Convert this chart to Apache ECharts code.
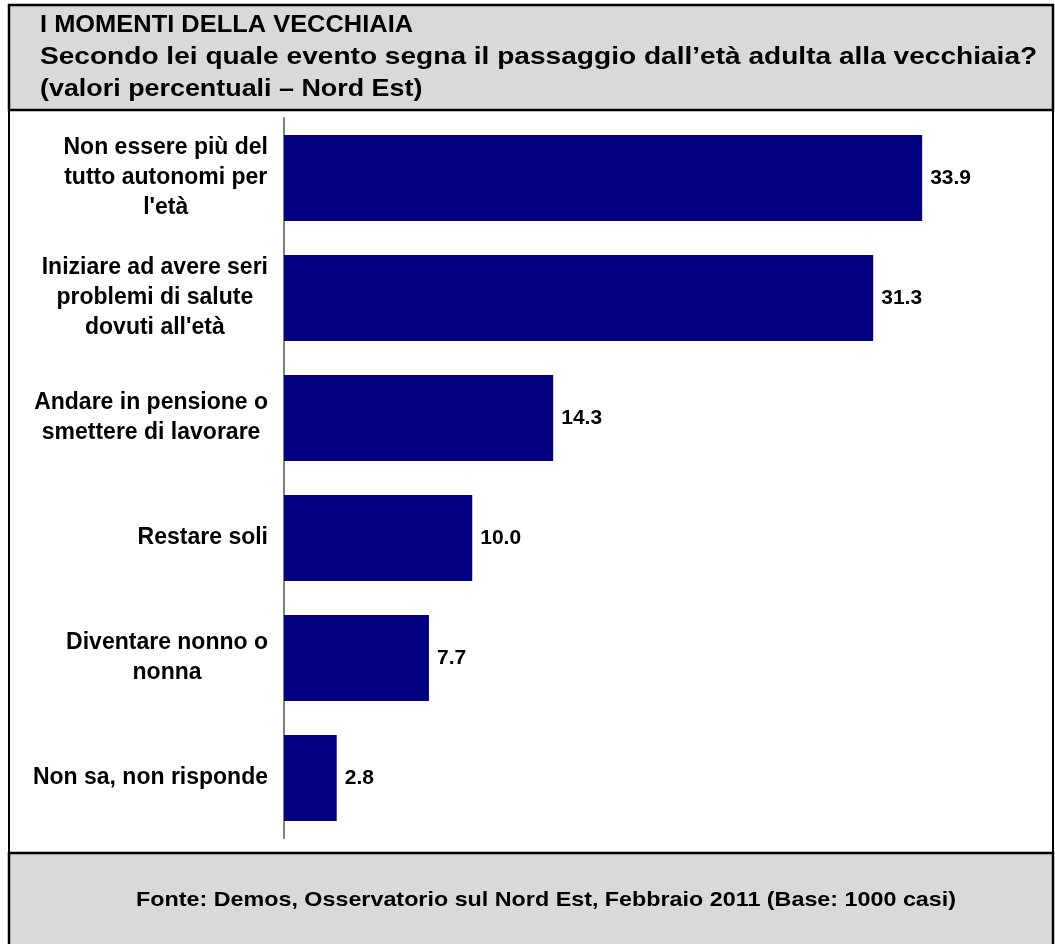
<!DOCTYPE html>
<html>
<head>
<meta charset="utf-8">
<script src="https://cdn.jsdelivr.net/npm/echarts@6/dist/echarts.min.js"></script>
<style>
  html, body { margin: 0; padding: 0; background: #fff; }
  #chart { width: 1055px; height: 944px; }
</style>
</head>
<body>
<div id="chart"></div>
<script>
// categories, top to bottom
const categories = [
  'Non essere più del\ntutto autonomi per\nl\'età',
  'Iniziare ad avere seri\nproblemi di salute\ndovuti all\'età',
  'Andare in pensione o\nsmettere di lavorare',
  'Restare soli',
  'Diventare nonno o\nnonna',
  'Non sa, non risponde'
];
const values = [33.9, 31.3, 14.3, 10.0, 7.7, 2.8];

const titleLines = [
  'I MOMENTI DELLA VECCHIAIA',
  'Secondo lei quale evento segna il passaggio dall\u2019età adulta alla vecchiaia?',
  '(valori percentuali \u2013 Nord Est)'
];
const source = 'Fonte: Demos, Osservatorio sul Nord Est, Febbraio 2011 (Base: 1000 casi)';

const FONT = '"Liberation Sans", Arial, sans-serif';
const GREY = '#d9d9d9';

let chart = echarts.init(document.getElementById('chart'));

let option = {
  backgroundColor: '#fff',
  animation: false,
  grid: { left: 284, top: 118, width: 753, height: 720 },
  xAxis: {
    type: 'value',
    min: 0,
    max: 40,
    show: false
  },
  yAxis: {
    type: 'category',
    data: categories,
    inverse: true,
    axisTick: { show: false },
    axisLine: { lineStyle: { color: '#808080', width: 2 } },
    axisLabel: {
      margin: 16,
      formatter: v => v.split('\n').map(l => '{c|' + l + '}').join('\n'),
      rich: {
        c: {
          align: 'center',
          fontFamily: FONT,
          fontWeight: 'bold',
          fontSize: 23,
          lineHeight: 30,
          color: '#000'
        }
      }
    }
  },
  series: [{
    type: 'bar',
    data: values,
    barWidth: 86,
    itemStyle: { color: '#000080' },
    label: {
      show: true,
      position: 'right',
      distance: 8,
      formatter: p => p.value.toFixed(1),
      fontFamily: FONT,
      fontWeight: 'bold',
      fontSize: 21,
      color: '#000'
    }
  }],
  graphic: [
    // header band
    { type: 'rect', z: -1, shape: { x: 9, y: 5, width: 1044, height: 105 },
      style: { fill: GREY, stroke: '#000', lineWidth: 2.5 } },
    // footer band
    { type: 'rect', z: -1, shape: { x: 9, y: 853, width: 1044, height: 95 },
      style: { fill: GREY, stroke: '#000', lineWidth: 2.5 } },
    // outer frame
    { type: 'rect', z: 10, shape: { x: 9, y: 5, width: 1044, height: 943 },
      style: { fill: null, stroke: '#000', lineWidth: 2 } },
    { type: 'text', x: 40, y: 25, scaleX: 1.06,
      style: { text: titleLines[0], font: 'bold 24px ' + FONT, fill: '#000', verticalAlign: 'middle' } },
    { type: 'text', x: 40, y: 57, scaleX: 1.17,
      style: { text: titleLines[1], font: 'bold 24px ' + FONT, fill: '#000', verticalAlign: 'middle' } },
    { type: 'text', x: 40, y: 89, scaleX: 1.12,
      style: { text: titleLines[2], font: 'bold 24px ' + FONT, fill: '#000', verticalAlign: 'middle' } },
    { type: 'text', x: 546, y: 900, scaleX: 1.11,
      style: { text: source, font: 'bold 21px ' + FONT, fill: '#000', align: 'center', verticalAlign: 'middle' } }
  ]
};

chart.setOption(option);
</script>
</body>
</html>
